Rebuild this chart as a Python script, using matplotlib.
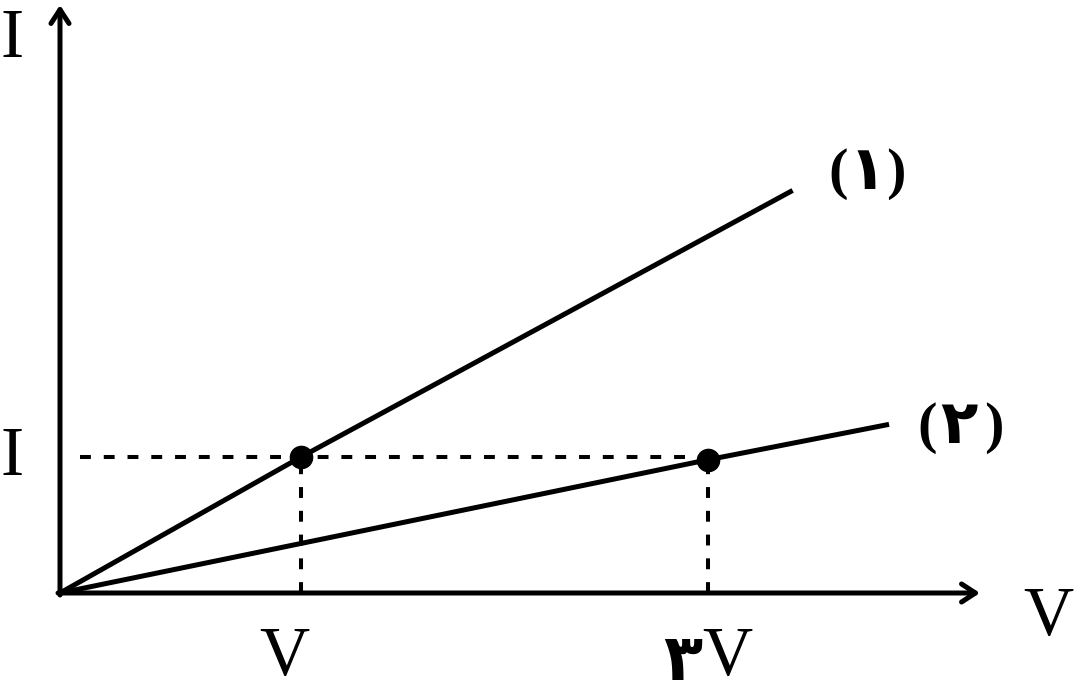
import matplotlib.pyplot as plt

# values in units of V (x) and I (y)
line1_x = [0, 1, 3.04]
line1_y = [0, 1, 2.96]
line2_x = [0, 2.69, 3.44]
line2_y = [0, 0.98, 1.24]
points_x = [1, 2.69]
points_y = [1, 0.98]
line_digits = ['۱', '۲']

# pixel scale of one unit (origin at px 60, 593)
sx, sy = 241, 136
ox, oy = 60, 593
W, H = 1077, 694

fig = plt.figure(figsize=(W / 100, H / 100), dpi=100)
ax = fig.add_axes([0, 0, 1, 1])
ax.set_xlim(-ox / sx, (W - ox) / sx)
ax.set_ylim(-(H - oy) / sy, oy / sy)
ax.axis('off')

def px(x, y):
    # pixel position -> data units
    return (x - ox) / sx, (oy - y) / sy

serif = ['Liberation Serif', 'DejaVu Sans']
digit_font = ['DejaVu Sans']

# axes with arrows
head = dict(arrowstyle='->,head_length=1.0,head_width=0.65',
            lw=3.6, color='black', shrinkA=0, shrinkB=0)
ax.annotate('', xy=px(60, 5), xytext=px(60, 595), arrowprops=head)
ax.annotate('', xy=px(980, 593), xytext=px(58, 593), arrowprops=head)

# dashed guides
dash = (0, (2.7, 3.2))
ax.plot([px(80, 0)[0], points_x[1]], [points_y[0], points_y[0]], color='black',
        lw=2.9, linestyle=dash)
for x, y in zip(points_x, points_y):
    ax.plot([x, x], [0, y], color='black', lw=2.9, linestyle=dash)

# the two lines
ax.plot(line1_x, line1_y, color='black', lw=3.6, solid_capstyle='butt')
ax.plot(line2_x, line2_y, color='black', lw=3.6, solid_capstyle='butt')
ax.plot(points_x, points_y, 'o', color='black', markersize=16)

# labels
ax.text(*px(12, 40), 'I', family=serif, fontsize=50, ha='center', va='center')
ax.text(*px(12, 458), 'I', family=serif, fontsize=50, ha='center', va='center')
ax.text(*px(1048, 618), 'V', family=serif, fontsize=50, ha='center', va='center')
ax.text(points_x[0] - 0.07, px(0, 658)[1], 'V', family=serif, fontsize=50,
        ha='center', va='center')
ax.text(*px(702, 662), '۳', family=digit_font, fontsize=46,
        fontweight='bold', ha='right', va='center')
ax.text(*px(702, 658), 'V', family=serif, fontsize=50, ha='left', va='center')

# line labels: (۱) and (۲)
for d, (cx, cy), (lx, rx) in zip(line_digits,
                                  [(867, 172), (959, 426)],
                                  [(848, 886), (937, 984)]):
    ax.text(*px(lx, cy + 2), '(', family=serif, fontsize=42, fontweight='bold',
            ha='right', va='center')
    ax.text(*px(cx, cy), d, family=digit_font, fontsize=44, fontweight='bold',
            ha='center', va='center')
    ax.text(*px(rx, cy + 2), ')', family=serif, fontsize=42, fontweight='bold',
            ha='left', va='center')

fig.savefig('out.png', dpi=100)
